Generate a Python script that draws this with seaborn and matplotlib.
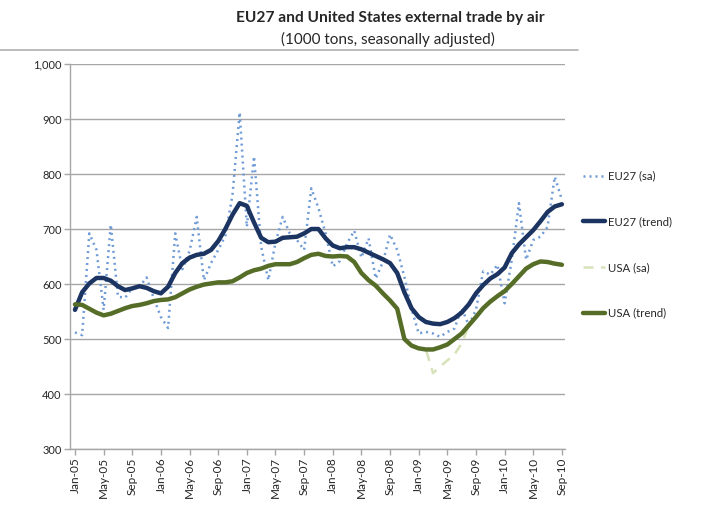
import matplotlib
matplotlib.use("Agg")
import matplotlib.pyplot as plt
from matplotlib.lines import Line2D
import numpy as np
import pandas as pd
import seaborn as sns

# monthly values Jan-05 .. Sep-10 (1000 tons, seasonally adjusted)
eu_sa = [512, 507, 692, 662, 553, 708, 577, 575, 593, 595, 612, 574,
         540, 520, 692, 627, 660, 722, 607, 638, 662, 688, 762, 912,
         704, 832, 668, 607, 675, 722, 692, 680, 662, 774, 738, 692,
         632, 642, 674, 697, 648, 683, 610, 640, 690, 662, 613, 555,
         510, 513, 510, 504, 513, 519, 556, 525, 553, 623, 617, 635,
         565, 644, 747, 644, 680, 686, 704, 795, 753]
eu_trend = [553, 585, 601, 611, 611, 606, 596, 589, 592, 596, 593, 587,
            583, 595, 620, 638, 648, 653, 655, 662, 678, 700, 726, 747,
            742, 712, 684, 676, 677, 684, 685, 686, 692, 700, 700, 683,
            670, 665, 667, 667, 663, 657, 651, 645, 638, 620, 585, 556,
            540, 531, 528, 527, 531, 538, 548, 563, 583, 598, 610, 618,
            630, 656, 672, 685, 698, 714, 731, 741, 745]
usa_sa = [564, 561, 556, 547, 544, 545, 552, 555, 561, 561, 566, 568,
          572, 571, 577, 582, 591, 594, 600, 600, 604, 602, 606, 611,
          621, 624, 629, 632, 637, 635, 637, 639, 648, 652, 656, 650,
          651, 650, 651, 639, 621, 606, 598, 582, 571, 554, 501, 487,
          482, 481, 438, 450, 461, 472, 492, 524, 541, 555, 569, 577,
          588, 599, 615, 627, 637, 640, 641, 636, 636]
usa_trend = [563, 562, 555, 548, 543, 546, 551, 556, 560, 562, 565, 569,
             571, 572, 576, 583, 590, 595, 599, 601, 603, 603, 605, 612,
             620, 625, 628, 633, 636, 636, 636, 640, 647, 653, 655, 651,
             650, 651, 650, 640, 620, 607, 597, 583, 570, 555, 500, 488,
             483, 481, 481, 485, 490, 500, 510, 525, 540, 556, 568, 578,
             587, 600, 614, 628, 636, 641, 640, 637, 635]

tick_labels = ["Jan-05", "May-05", "Sep-05", "Jan-06", "May-06", "Sep-06",
               "Jan-07", "May-07", "Sep-07", "Jan-08", "May-08", "Sep-08",
               "Jan-09", "May-09", "Sep-09", "Jan-10", "May-10", "Sep-10"]
y_ticks = [300, 400, 500, 600, 700, 800, 900, 1000]

df = pd.DataFrame({"month": np.arange(len(eu_sa)), "eu_sa": eu_sa,
                   "eu_trend": eu_trend, "usa_sa": usa_sa,
                   "usa_trend": usa_trend})

sns.set_style("white")
plt.rcParams["font.family"] = ["Lato", "DejaVu Sans"]

fig = plt.figure(figsize=(7.14, 5.12), dpi=100)
ax = fig.add_axes([0.098, 0.123, 0.693, 0.752])

sns.lineplot(data=df, x="month", y="eu_sa", ax=ax, color="#6f9bd6",
             linewidth=1.8, linestyle=(0, (0.8, 1.6)), label="EU27 (sa)")
sns.lineplot(data=df, x="month", y="eu_trend", ax=ax, color="#1c3461",
             linewidth=3.2, label="EU27 (trend)")
sns.lineplot(data=df, x="month", y="usa_sa", ax=ax, color="#d6e3b8",
             linewidth=1.8, linestyle=(0, (4, 3)), label="USA (sa)")
sns.lineplot(data=df, x="month", y="usa_trend", ax=ax, color="#566d27",
             linewidth=3.2, label="USA (trend)")

ax.set_xlim(-0.7, 68.4)
ax.set_ylim(300, 1000)
ax.set_yticks(y_ticks)
ax.set_yticklabels([f"{v:,}" for v in y_ticks], fontsize=8, color="#262626")
ax.set_xticks(np.arange(0, 69, 4))
ax.set_xticklabels(tick_labels, rotation=90, fontsize=8.5, color="#262626")
ax.set_xlabel("")
ax.set_ylabel("")
ax.grid(axis="y", color="#a6a6a6", linewidth=1)
ax.set_axisbelow(True)
for s in ["top", "right"]:
    ax.spines[s].set_visible(False)
for s in ["left", "bottom"]:
    ax.spines[s].set_color("#a6a6a6")
    ax.spines[s].set_linewidth(1)
ax.tick_params(axis="both", which="both", direction="out", length=4,
               width=1, color="#a6a6a6", pad=2, left=True, bottom=True)

handles, labels = ax.get_legend_handles_labels()
ax.legend(handles, labels, loc="upper left", bbox_to_anchor=(0.808, 0.678),
          bbox_transform=fig.transFigure, frameon=False, fontsize=8.2,
          handlelength=2.0, handletextpad=0.2, labelspacing=3.05, borderpad=0)

fig.text(0.546, 0.965, "EU27 and United States external trade by air",
         ha="center", va="center", fontsize=11.2, fontweight="bold")
fig.text(0.544, 0.922, "(1000 tons, seasonally adjusted)",
         ha="center", va="center", fontsize=11)
fig.add_artist(Line2D([0, 0.81], [0.902, 0.902], color="#b0b0b0",
                      linewidth=1.2, transform=fig.transFigure))

fig.savefig("out.png", dpi=100)
